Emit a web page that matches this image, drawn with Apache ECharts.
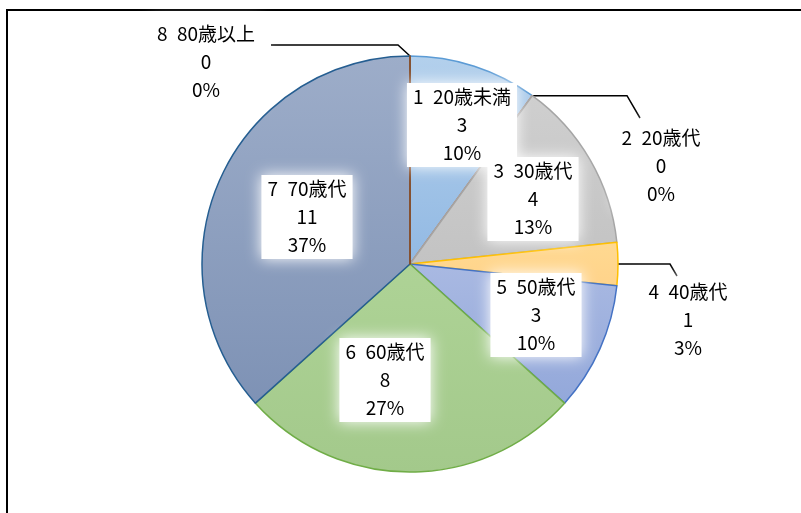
<!DOCTYPE html>
<html>
<head>
<meta charset="utf-8">
<script src="https://cdn.jsdelivr.net/npm/echarts@6/dist/echarts.min.js"></script>
<style>
html,body{margin:0;padding:0;background:#fff;}
#c{width:801px;height:513px;}
</style>
</head>
<body>
<div id="c"></div>
<script>
const categories = ['1 20歳未満', '2 20歳代', '3 30歳代', '4 40歳代', '5 50歳代', '6 60歳代', '7 70歳代', '8 80歳以上'];
const counts = [3, 0, 4, 1, 3, 8, 11, 0];

// styling / layout (not data)
const fills = [
  ['#B3D0EC', '#92B9E3'],
  ['#F4B183', '#F4B183'],
  ['#CFCFCF', '#C3C3C3'],
  ['#FFD991', '#FFD38A'],
  ['#A9B9E2', '#93A8DA'],
  ['#AED396', '#A3C98B'],
  ['#9DADC9', '#7E92B5'],
  ['#C55A11', '#C55A11']
];
const borders = ['#5B9BD5', '#ED7D31', '#A5A5A5', '#FFC000', '#4472C4', '#70AD47', '#255E91', '#9E480E'];
const labelPos = [[462, 125], [661, 166], [533, 199], [688, 320], [536, 315], [385, 380], [307, 217], [206, 62]];
const outsideIdx = [1, 3, 7];

const chart = echarts.init(document.getElementById('c'), null, {renderer: 'canvas'});

const data = categories.map((name, i) => ({
  name: name,
  value: counts[i],
  itemStyle: {
    color: new echarts.graphic.LinearGradient(0, 0, 0, 1, [
      {offset: 0, color: fills[i][0]},
      {offset: 1, color: fills[i][1]}
    ]),
    borderColor: borders[i],
    borderWidth: 1.5
  },
  label: {
    position: outsideIdx.includes(i) ? 'outside' : 'inside'
  },
  labelLine: {show: outsideIdx.includes(i)}
}));

function leader(i, p0) {
  const [lx, ly] = labelPos[i];
  if (i === 1) return [[p0[0], p0[1]], [lx - 34, p0[1]], [lx - 21, ly - 48]];
  if (i === 3) return [[p0[0], p0[1]], [lx - 18, p0[1]], [lx - 11, ly - 44]];
  if (i === 7) return [[p0[0], p0[1]], [p0[0] - 12, p0[1] - 11], [lx + 65, p0[1] - 11]];
  return null;
}

const cx = 410, cy = 264, R = 208;
const total = counts.reduce((a, b) => a + b, 0);

chart.setOption({
  animation: false,
  backgroundColor: '#fff',
  graphic: [{
    type: 'rect',
    shape: {x: 7, y: 10, width: 820, height: 530},
    style: {fill: 'none', stroke: '#000', lineWidth: 2},
    silent: true
  }],
  series: [{
    type: 'pie',
    center: [cx, cy],
    radius: [0, R],
    startAngle: 90,
    clockwise: true,
    avoidLabelOverlap: false,
    stillShowZeroSum: true,
    emphasis: {disabled: true},
    label: {
      show: true,
      color: '#000',
      fontSize: 19,
      fontFamily: "'Noto Sans CJK JP', sans-serif",
      lineHeight: 28,
      align: 'center',
      backgroundColor: '#fff',
      padding: [0, 6],
      shadowColor: '#fff',
      shadowBlur: 14,
      formatter: p => p.name.replace(' ', '\u2002') + '\n' + p.value + '\n' + Math.round(p.percent) + '%'
    },
    labelLine: {
      show: false,
      lineStyle: {color: '#000', width: 1.5}
    },
    labelLayout: function (params) {
      const i = params.dataIndex;
      const out = {
        x: labelPos[i][0],
        y: labelPos[i][1],
        align: 'center',
        verticalAlign: 'middle'
      };
      if (outsideIdx.includes(i)) {
        const before = counts.slice(0, i).reduce((a, b) => a + b, 0);
        const ang = (90 - 360 * before / total - 180 * counts[i] / total) * Math.PI / 180;
        const p0 = [cx + R * Math.cos(ang), cy - R * Math.sin(ang)];
        out.labelLinePoints = leader(i, p0);
      }
      return out;
    },
    data: data
  }]
});
</script>
</body>
</html>
